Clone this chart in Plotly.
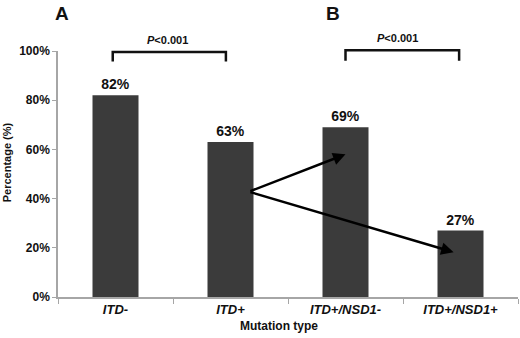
import plotly.graph_objects as go

categories = ["ITD-", "ITD+", "ITD+/NSD1-", "ITD+/NSD1+"]
percentages = [82, 63, 69, 27]
y_ticks = [0, 20, 40, 60, 80, 100]
y_tick_labels = ["0%", "20%", "40%", "60%", "80%", "100%"]
panel_labels = ["A", "B"]
p_labels = ["<i>P</i>&lt;0.001", "<i>P</i>&lt;0.001"]

FONT = "Arial, Liberation Sans, sans-serif"

cat_x = [f"<b><i>{c}</i></b>" for c in categories]

fig = go.Figure()
fig.add_trace(go.Bar(
    x=cat_x,
    y=percentages,
    width=0.4,
    marker=dict(color="#3b3b3b", line=dict(width=0)),
    text=[f"<b>{v}%</b>" for v in percentages],
    textposition="outside",
    textfont=dict(family=FONT, size=14, color="#111111"),
    cliponaxis=False,
    hoverinfo="skip",
))

# arrows from ITD+ bar to ITD+/NSD1- and ITD+/NSD1+
fig.add_annotation(x=2.0, y=58, ax=1.16, ay=42.8, xref="x", yref="y", axref="x", ayref="y",
                   showarrow=True, arrowhead=2, arrowsize=1, arrowwidth=2.5, arrowcolor="#000000",
                   text="", standoff=0)
fig.add_annotation(x=2.94, y=18.2, ax=1.16, ay=42.8, xref="x", yref="y", axref="x", ayref="y",
                   showarrow=True, arrowhead=2, arrowsize=1, arrowwidth=2.5, arrowcolor="#000000",
                   text="", standoff=0)

# brackets (paper coordinates derived from category centers)
def cx(i):
    return (i + 0.5) / len(categories)

brackets = [(cx(0) - 0.006, cx(1) - 0.01, 0.996, 0.957), (cx(2), cx(3) - 0.003, 1.003, 0.96)]
for x0, x1, ytop, ybot in brackets:
    fig.add_shape(type="path", xref="paper", yref="paper",
                  path=f"M {x0},{ybot} L {x0},{ytop} L {x1},{ytop} L {x1},{ybot}",
                  line=dict(color="#111111", width=2.5))

for (xc, yc), t in zip([(0.237, 1.045), (0.739, 1.053)], p_labels):
    fig.add_annotation(x=xc, y=yc, xref="paper", yref="paper", text=f"<b>{t}</b>", showarrow=False,
                       font=dict(family=FONT, size=11, color="#111111"), xanchor="center", yanchor="middle")

for xc, t in zip([0.009, 0.597], panel_labels):
    fig.add_annotation(x=xc, y=1.154, xref="paper", yref="paper", text=f"<b>{t}</b>", showarrow=False,
                       font=dict(family=FONT, size=19, color="#111111"), xanchor="center", yanchor="middle")

fig.add_annotation(x=-0.109, y=0.547, xref="paper", yref="paper", text="<b>Percentage (%)</b>",
                   showarrow=False, textangle=-90, font=dict(family=FONT, size=11, color="#111111"),
                   xanchor="center", yanchor="middle")
fig.add_annotation(x=0.48, y=-0.117, xref="paper", yref="paper", text="<b>Mutation type</b>",
                   showarrow=False, font=dict(family=FONT, size=12, color="#111111"),
                   xanchor="center", yanchor="middle")

fig.update_layout(
    width=520, height=338,
    margin=dict(l=58, r=2, t=51, b=41),
    paper_bgcolor="white", plot_bgcolor="white",
    showlegend=False,
    hovermode=False,
    font=dict(family=FONT, color="#111111"),
    xaxis=dict(
        type="category", categoryorder="array", categoryarray=cat_x,
        showline=True, linecolor="#a6a6a6", linewidth=1.5,
        ticks="outside", tickson="boundaries", ticklen=5, tickcolor="#a6a6a6",
        tickfont=dict(family=FONT, size=13, color="#111111"),
        showgrid=False, zeroline=False, automargin=False,
    ),
    yaxis=dict(
        range=[0, 100], tickvals=y_ticks, ticktext=[f"<b>{t}</b>" for t in y_tick_labels],
        showline=True, linecolor="#a6a6a6", linewidth=1.5,
        ticks="outside", ticklen=4, tickcolor="#a6a6a6",
        tickfont=dict(family=FONT, size=12, color="#111111"),
        showgrid=False, zeroline=False, automargin=False,
    ),
)

fig.write_html("out.html", config={"displayModeBar": False},
               post_script="document.body.style.margin='0';document.body.style.overflow='hidden';")
